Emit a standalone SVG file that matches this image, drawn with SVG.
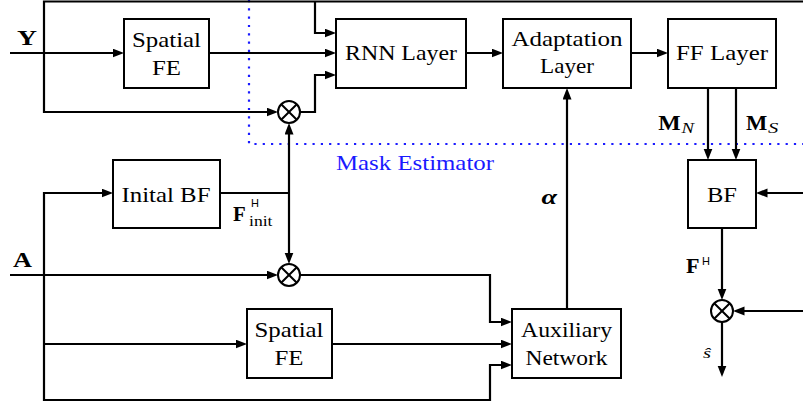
<svg xmlns="http://www.w3.org/2000/svg" width="803" height="403" viewBox="0 0 803 403">
  <defs>
    <marker id="ah" markerUnits="userSpaceOnUse" markerWidth="12" markerHeight="10" refX="7.5" refY="4.5" orient="auto-start-reverse">
      <path d="M0,0 L11.5,4.5 L0,9 z" fill="#000"/>
    </marker>
    <style>
      .box { fill: #fff; stroke: #000; stroke-width: 2; }
      .wire { fill: none; stroke: #000; stroke-width: 2.2; stroke-linejoin: miter; }
      .arr { marker-end: url(#ah); }
      .arrs { marker-start: url(#ah); }
      .dot { fill: none; stroke: #1a1aff; stroke-width: 2.2; stroke-dasharray: 2.2 6.1; }
      .op { fill: #fff; stroke: #000; stroke-width: 2; }
      .x { fill: none; stroke: #000; stroke-width: 2; }
      .lbl { font-family: 'Liberation Serif', 'DejaVu Serif', serif; font-size: 21px; fill: #000; text-anchor: middle; }
      .bold { font-family: 'Liberation Serif', 'DejaVu Serif', serif; font-weight: bold; font-size: 20px; fill: #000; }
      .it { font-family: 'Liberation Serif', 'DejaVu Serif', serif; font-style: italic; font-size: 14px; fill: #000; }
      .rm { font-family: 'Liberation Serif', 'DejaVu Serif', serif; font-size: 14px; fill: #000; }
      .sf { font-family: 'Liberation Sans', Arial, sans-serif; font-size: 11px; fill: #000; }
      .blue { font-family: 'Liberation Serif', 'DejaVu Serif', serif; font-size: 21px; fill: #1a1aff; }
    </style>
  </defs>

  <g id="mask-estimator-region">
    <path class="dot" d="M249,0 V144 H803"/>
    <text class="blue" x="336" y="170" textLength="158" lengthAdjust="spacingAndGlyphs">Mask Estimator</text>
  </g>

  <g id="connectors">
    <path class="wire arr" d="M803,1.5 H44 V112 H274"/>
    <path class="wire arr" d="M315,1.5 V33 H332"/>
    <path class="wire arr" d="M10,53 H120"/>
    <path class="wire arr" d="M209,53 H332"/>
    <path class="wire arr" d="M300,112 H315 V75 H332"/>
    <path class="wire arr" d="M466,53 H499"/>
    <path class="wire arr" d="M631,53 H664"/>
    <path class="wire arr" d="M708,88 V156"/>
    <path class="wire arr" d="M736,88 V156"/>
    <path class="wire arr" d="M803,193 H760"/>
    <path class="wire arr" d="M722,228 V296"/>
    <path class="wire arr" d="M803,311 H737"/>
    <path class="wire arr" d="M722,322 V373"/>
    <path class="wire" d="M220,193 H289"/>
    <path class="wire arr" d="M289,193 V127"/>
    <path class="wire arr" d="M289,193 V260"/>
    <path class="wire arr" d="M10,275 H274"/>
    <path class="wire arr arrs" d="M109,193 H44 V400 H490 V365 H508"/>
    <path class="wire arr" d="M44,344 H243"/>
    <path class="wire arr" d="M300,275 H490 V322 H508"/>
    <path class="wire arr" d="M332,344 H508"/>
    <path class="wire arr" d="M567,309 V92"/>
  </g>

  <g id="spatial-fe-top">
    <rect class="box" x="124" y="19" width="85" height="69"/>
    <text class="lbl" x="166.5" y="46.5" textLength="69" lengthAdjust="spacingAndGlyphs">Spatial</text>
    <text class="lbl" x="166.5" y="75" textLength="29" lengthAdjust="spacingAndGlyphs">FE</text>
  </g>

  <g id="rnn-layer">
    <rect class="box" x="336" y="19" width="130" height="69"/>
    <text class="lbl" x="401" y="59.5" textLength="112" lengthAdjust="spacingAndGlyphs">RNN Layer</text>
  </g>

  <g id="adaptation-layer">
    <rect class="box" x="503" y="19" width="128" height="69"/>
    <text class="lbl" x="567" y="46" textLength="111" lengthAdjust="spacingAndGlyphs">Adaptation</text>
    <text class="lbl" x="567" y="73" textLength="54" lengthAdjust="spacingAndGlyphs">Layer</text>
  </g>

  <g id="ff-layer">
    <rect class="box" x="668" y="19" width="108" height="69"/>
    <text class="lbl" x="722" y="59.5" textLength="92" lengthAdjust="spacingAndGlyphs">FF Layer</text>
  </g>

  <g id="initial-bf">
    <rect class="box" x="113" y="160" width="107" height="68"/>
    <text class="lbl" x="166" y="201.5" textLength="89" lengthAdjust="spacingAndGlyphs">Inital BF</text>
  </g>

  <g id="bf">
    <rect class="box" x="688" y="160" width="68" height="68"/>
    <text class="lbl" x="722" y="202" textLength="30" lengthAdjust="spacingAndGlyphs">BF</text>
  </g>

  <g id="spatial-fe-bottom">
    <rect class="box" x="247" y="309" width="85" height="69"/>
    <text class="lbl" x="289" y="336.5" textLength="69" lengthAdjust="spacingAndGlyphs">Spatial</text>
    <text class="lbl" x="289" y="365" textLength="29" lengthAdjust="spacingAndGlyphs">FE</text>
  </g>

  <g id="auxiliary-network">
    <rect class="box" x="512" y="309" width="109" height="69"/>
    <text class="lbl" x="566.5" y="337" textLength="91" lengthAdjust="spacingAndGlyphs">Auxiliary</text>
    <text class="lbl" x="566.5" y="365" textLength="82" lengthAdjust="spacingAndGlyphs">Network</text>
  </g>

  <g id="mult-top">
    <circle class="op" cx="289" cy="112" r="11"/>
    <path class="x" d="M281.2,104.2 L296.8,119.8 M281.2,119.8 L296.8,104.2"/>
  </g>

  <g id="mult-mid">
    <circle class="op" cx="289" cy="275" r="11"/>
    <path class="x" d="M281.2,267.2 L296.8,282.8 M281.2,282.8 L296.8,267.2"/>
  </g>

  <g id="mult-out">
    <circle class="op" cx="722" cy="311" r="11"/>
    <path class="x" d="M714.2,303.2 L729.8,318.8 M714.2,318.8 L729.8,303.2"/>
  </g>

  <g id="labels">
    <text class="bold" x="17" y="45" font-size="21" textLength="20" lengthAdjust="spacingAndGlyphs">Y</text>
    <text class="bold" x="13" y="266.5" font-size="21" textLength="19" lengthAdjust="spacingAndGlyphs">A</text>
    <text class="bold" x="233" y="221" textLength="12.7" lengthAdjust="spacingAndGlyphs">F</text>
    <text class="sf" x="251" y="207">H</text>
    <text class="rm" x="249" y="225.5" textLength="23.5" lengthAdjust="spacingAndGlyphs">init</text>
    <text class="bold" x="686" y="272.5" textLength="13.5" lengthAdjust="spacingAndGlyphs">F</text>
    <text class="sf" x="702" y="265">H</text>
    <text class="it" x="703" y="357.5" font-size="16" textLength="8" lengthAdjust="spacingAndGlyphs">ŝ</text>
    <text class="bold" x="541.5" y="203.5" font-style="italic" textLength="15.5" lengthAdjust="spacingAndGlyphs">α</text>
    <text class="bold" x="658.3" y="130" textLength="22.4" lengthAdjust="spacingAndGlyphs">M</text>
    <text class="it" x="681.5" y="133.3" textLength="12.5" lengthAdjust="spacingAndGlyphs">N</text>
    <text class="bold" x="746" y="130" textLength="21.3" lengthAdjust="spacingAndGlyphs">M</text>
    <text class="it" x="768" y="133.3" textLength="10.3" lengthAdjust="spacingAndGlyphs">S</text>
  </g>
</svg>
